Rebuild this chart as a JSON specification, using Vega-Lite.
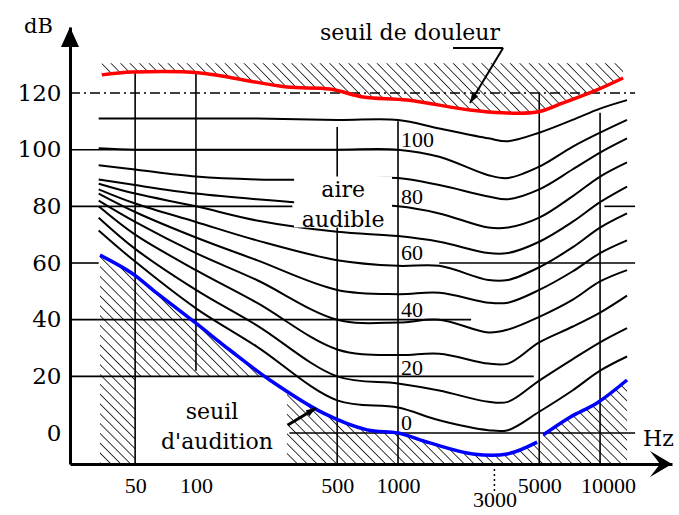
{
"$schema": "https://vega.github.io/schema/vega-lite/v6.json",
"width": 602, "height": 437,
"autosize": "none",
"padding": {"left": 70, "top": 27, "right": 7, "bottom": 51},
"background": "white",
"config": {"view": {"stroke": null}},
"datasets": {
"pain": [{"f":34.2,"db":126.4},{"f":48.8,"db":127.4},{"f":105,"db":127.1},{"f":152,"db":125.3},{"f":282,"db":122.1},{"f":460,"db":121.4},{"f":671,"db":118.6},{"f":1110,"db":117.5},{"f":2270,"db":114},{"f":3300,"db":113},{"f":4880,"db":113.3},{"f":6560,"db":116.5},{"f":9660,"db":121.1},{"f":13000,"db":125.3}],
"threshold": [{"f":33.5,"db":62.8,"seg":"a"},{"f":48,"db":56.5,"seg":"a"},{"f":64,"db":49.4,"seg":"a"},{"f":101,"db":38.5,"seg":"a"},{"f":147,"db":29.3,"seg":"a"},{"f":232,"db":18.7,"seg":"a"},{"f":425,"db":7.1,"seg":"a"},{"f":703,"db":1.1,"seg":"a"},{"f":1000,"db":0,"seg":"a"},{"f":1440,"db":-3.5,"seg":"a"},{"f":2350,"db":-7.4,"seg":"a"},{"f":3470,"db":-7.4,"seg":"a"},{"f":4880,"db":-3.2,"seg":"a"},{"f":5220,"db":-0.7,"seg":"b"},{"f":7100,"db":5.6,"seg":"b"},{"f":9660,"db":10.6,"seg":"b"},{"f":13600,"db":18.7,"seg":"b"}],
"curves": [
{"level":110,"f":33,"db":111},{"level":110,"f":50,"db":111},{"level":110,"f":100,"db":111},{"level":110,"f":200,"db":111},{"level":110,"f":500,"db":110.5},{"level":110,"f":1000,"db":110.5},{"level":110,"f":1600,"db":107.5},{"level":110,"f":2800,"db":104},{"level":110,"f":3500,"db":103},{"level":110,"f":5000,"db":106},{"level":110,"f":7300,"db":110.5},{"level":110,"f":10000,"db":114.5},{"level":110,"f":13600,"db":117.5},
{"level":100,"f":33,"db":100.5},{"level":100,"f":50,"db":100},{"level":100,"f":100,"db":100},{"level":100,"f":200,"db":100},{"level":100,"f":500,"db":100},{"level":100,"f":1000,"db":100},{"level":100,"f":1600,"db":97.5},{"level":100,"f":2800,"db":91},{"level":100,"f":3500,"db":90},{"level":100,"f":5000,"db":94},{"level":100,"f":7300,"db":101},{"level":100,"f":10000,"db":106},{"level":100,"f":13600,"db":110.5},
{"level":90,"f":33,"db":94.5},{"level":90,"f":50,"db":93},{"level":90,"f":100,"db":90.5},{"level":90,"f":200,"db":89.5},{"level":90,"f":500,"db":89.5},{"level":90,"f":1000,"db":90},{"level":90,"f":1600,"db":87.5},{"level":90,"f":2800,"db":83.5},{"level":90,"f":3500,"db":82.5},{"level":90,"f":5000,"db":86},{"level":90,"f":7300,"db":93},{"level":90,"f":10000,"db":99},{"level":90,"f":13600,"db":104},
{"level":80,"f":33,"db":89.5},{"level":80,"f":50,"db":87.5},{"level":80,"f":100,"db":84.5},{"level":80,"f":200,"db":82.5},{"level":80,"f":500,"db":80.5},{"level":80,"f":1000,"db":80},{"level":80,"f":1600,"db":77.5},{"level":80,"f":2800,"db":72.5},{"level":80,"f":3500,"db":72.5},{"level":80,"f":5000,"db":76},{"level":80,"f":7300,"db":83.5},{"level":80,"f":10000,"db":90.5},{"level":80,"f":13600,"db":95.5},
{"level":70,"f":33,"db":88},{"level":70,"f":50,"db":84.5},{"level":70,"f":100,"db":80},{"level":70,"f":200,"db":75},{"level":70,"f":500,"db":71},{"level":70,"f":1000,"db":69.5},{"level":70,"f":1600,"db":67.5},{"level":70,"f":2800,"db":63.5},{"level":70,"f":3500,"db":63.5},{"level":70,"f":5000,"db":67.5},{"level":70,"f":7300,"db":74.5},{"level":70,"f":10000,"db":81.5},{"level":70,"f":13600,"db":87},
{"level":60,"f":33,"db":86},{"level":60,"f":50,"db":81},{"level":60,"f":100,"db":74.5},{"level":60,"f":200,"db":68},{"level":60,"f":500,"db":61},{"level":60,"f":1000,"db":59},{"level":60,"f":1600,"db":59},{"level":60,"f":2800,"db":54},{"level":60,"f":3500,"db":54},{"level":60,"f":5000,"db":58.5},{"level":60,"f":7300,"db":65.5},{"level":60,"f":10000,"db":72.5},{"level":60,"f":13600,"db":77.5},
{"level":50,"f":33,"db":84.5},{"level":50,"f":50,"db":78},{"level":50,"f":100,"db":69},{"level":50,"f":200,"db":61},{"level":50,"f":500,"db":50.5},{"level":50,"f":1000,"db":49},{"level":50,"f":1600,"db":49.5},{"level":50,"f":2800,"db":46},{"level":50,"f":3500,"db":46},{"level":50,"f":5000,"db":50.5},{"level":50,"f":7300,"db":57},{"level":50,"f":10000,"db":63.5},{"level":50,"f":13600,"db":68},
{"level":40,"f":33,"db":82},{"level":40,"f":50,"db":74.5},{"level":40,"f":100,"db":63.5},{"level":40,"f":200,"db":54},{"level":40,"f":500,"db":40},{"level":40,"f":1000,"db":39},{"level":40,"f":1600,"db":40},{"level":40,"f":2800,"db":35.5},{"level":40,"f":3500,"db":36.5},{"level":40,"f":5000,"db":41},{"level":40,"f":7300,"db":47},{"level":40,"f":10000,"db":53.5},{"level":40,"f":13600,"db":57.5},
{"level":30,"f":33,"db":80},{"level":30,"f":50,"db":70},{"level":30,"f":100,"db":57.5},{"level":30,"f":200,"db":46},{"level":30,"f":500,"db":29.5},{"level":30,"f":1000,"db":27.5},{"level":30,"f":1600,"db":28},{"level":30,"f":2800,"db":24.5},{"level":30,"f":3500,"db":24.5},{"level":30,"f":5000,"db":32},{"level":30,"f":7300,"db":37.5},{"level":30,"f":10000,"db":42.5},{"level":30,"f":13600,"db":48.5},
{"level":20,"f":33,"db":76},{"level":20,"f":50,"db":65},{"level":20,"f":100,"db":50.5},{"level":20,"f":200,"db":38},{"level":20,"f":500,"db":20},{"level":20,"f":1000,"db":17.5},{"level":20,"f":1600,"db":15},{"level":20,"f":2800,"db":11},{"level":20,"f":3500,"db":11},{"level":20,"f":5000,"db":18.5},{"level":20,"f":7300,"db":26},{"level":20,"f":10000,"db":32},{"level":20,"f":13600,"db":37},
{"level":10,"f":33,"db":71.5},{"level":10,"f":50,"db":60.5},{"level":10,"f":100,"db":44},{"level":10,"f":200,"db":30.5},{"level":10,"f":500,"db":11.5},{"level":10,"f":1000,"db":9},{"level":10,"f":1600,"db":4.5},{"level":10,"f":2800,"db":1},{"level":10,"f":3500,"db":1},{"level":10,"f":5000,"db":7.5},{"level":10,"f":7300,"db":15},{"level":10,"f":10000,"db":22},{"level":10,"f":13600,"db":27}
]
},
"layer": [
{"data": {"name": "pain"},
 "mark": {"type": "area", "interpolate": "catmull-rom", "fill": {"gradient": "linear", "x1": 0, "y1": 1, "x2": 1.0845, "y2": 0.898, "stops": [
{"offset":0,"color":"#fff"},{"offset":0.0021,"color":"#222"},{"offset":0.0042,"color":"#fff"},
{"offset":0.0167,"color":"#fff"},{"offset":0.0188,"color":"#222"},{"offset":0.0209,"color":"#fff"},
{"offset":0.0333,"color":"#fff"},{"offset":0.0354,"color":"#222"},{"offset":0.0375,"color":"#fff"},
{"offset":0.05,"color":"#fff"},{"offset":0.0521,"color":"#222"},{"offset":0.0542,"color":"#fff"},
{"offset":0.0667,"color":"#fff"},{"offset":0.0688,"color":"#222"},{"offset":0.0709,"color":"#fff"},
{"offset":0.0833,"color":"#fff"},{"offset":0.0854,"color":"#222"},{"offset":0.0875,"color":"#fff"},
{"offset":0.1,"color":"#fff"},{"offset":0.1021,"color":"#222"},{"offset":0.1042,"color":"#fff"},
{"offset":0.1167,"color":"#fff"},{"offset":0.1188,"color":"#222"},{"offset":0.1209,"color":"#fff"},
{"offset":0.1333,"color":"#fff"},{"offset":0.1354,"color":"#222"},{"offset":0.1375,"color":"#fff"},
{"offset":0.15,"color":"#fff"},{"offset":0.1521,"color":"#222"},{"offset":0.1542,"color":"#fff"},
{"offset":0.1667,"color":"#fff"},{"offset":0.1688,"color":"#222"},{"offset":0.1709,"color":"#fff"},
{"offset":0.1833,"color":"#fff"},{"offset":0.1854,"color":"#222"},{"offset":0.1875,"color":"#fff"},
{"offset":0.2,"color":"#fff"},{"offset":0.2021,"color":"#222"},{"offset":0.2042,"color":"#fff"},
{"offset":0.2167,"color":"#fff"},{"offset":0.2188,"color":"#222"},{"offset":0.2209,"color":"#fff"},
{"offset":0.2333,"color":"#fff"},{"offset":0.2354,"color":"#222"},{"offset":0.2375,"color":"#fff"},
{"offset":0.25,"color":"#fff"},{"offset":0.2521,"color":"#222"},{"offset":0.2542,"color":"#fff"},
{"offset":0.2667,"color":"#fff"},{"offset":0.2688,"color":"#222"},{"offset":0.2709,"color":"#fff"},
{"offset":0.2833,"color":"#fff"},{"offset":0.2854,"color":"#222"},{"offset":0.2875,"color":"#fff"},
{"offset":0.3,"color":"#fff"},{"offset":0.3021,"color":"#222"},{"offset":0.3042,"color":"#fff"},
{"offset":0.3167,"color":"#fff"},{"offset":0.3188,"color":"#222"},{"offset":0.3209,"color":"#fff"},
{"offset":0.3333,"color":"#fff"},{"offset":0.3354,"color":"#222"},{"offset":0.3375,"color":"#fff"},
{"offset":0.35,"color":"#fff"},{"offset":0.3521,"color":"#222"},{"offset":0.3542,"color":"#fff"},
{"offset":0.3667,"color":"#fff"},{"offset":0.3688,"color":"#222"},{"offset":0.3709,"color":"#fff"},
{"offset":0.3833,"color":"#fff"},{"offset":0.3854,"color":"#222"},{"offset":0.3875,"color":"#fff"},
{"offset":0.4,"color":"#fff"},{"offset":0.4021,"color":"#222"},{"offset":0.4042,"color":"#fff"},
{"offset":0.4167,"color":"#fff"},{"offset":0.4188,"color":"#222"},{"offset":0.4209,"color":"#fff"},
{"offset":0.4333,"color":"#fff"},{"offset":0.4354,"color":"#222"},{"offset":0.4375,"color":"#fff"},
{"offset":0.45,"color":"#fff"},{"offset":0.4521,"color":"#222"},{"offset":0.4542,"color":"#fff"},
{"offset":0.4667,"color":"#fff"},{"offset":0.4688,"color":"#222"},{"offset":0.4709,"color":"#fff"},
{"offset":0.4833,"color":"#fff"},{"offset":0.4854,"color":"#222"},{"offset":0.4875,"color":"#fff"},
{"offset":0.5,"color":"#fff"},{"offset":0.5021,"color":"#222"},{"offset":0.5042,"color":"#fff"},
{"offset":0.5167,"color":"#fff"},{"offset":0.5188,"color":"#222"},{"offset":0.5209,"color":"#fff"},
{"offset":0.5333,"color":"#fff"},{"offset":0.5354,"color":"#222"},{"offset":0.5375,"color":"#fff"},
{"offset":0.55,"color":"#fff"},{"offset":0.5521,"color":"#222"},{"offset":0.5542,"color":"#fff"},
{"offset":0.5667,"color":"#fff"},{"offset":0.5688,"color":"#222"},{"offset":0.5709,"color":"#fff"},
{"offset":0.5833,"color":"#fff"},{"offset":0.5854,"color":"#222"},{"offset":0.5875,"color":"#fff"},
{"offset":0.6,"color":"#fff"},{"offset":0.6021,"color":"#222"},{"offset":0.6042,"color":"#fff"},
{"offset":0.6167,"color":"#fff"},{"offset":0.6188,"color":"#222"},{"offset":0.6209,"color":"#fff"},
{"offset":0.6333,"color":"#fff"},{"offset":0.6354,"color":"#222"},{"offset":0.6375,"color":"#fff"},
{"offset":0.65,"color":"#fff"},{"offset":0.6521,"color":"#222"},{"offset":0.6542,"color":"#fff"},
{"offset":0.6667,"color":"#fff"},{"offset":0.6688,"color":"#222"},{"offset":0.6709,"color":"#fff"},
{"offset":0.6833,"color":"#fff"},{"offset":0.6854,"color":"#222"},{"offset":0.6875,"color":"#fff"},
{"offset":0.7,"color":"#fff"},{"offset":0.7021,"color":"#222"},{"offset":0.7042,"color":"#fff"},
{"offset":0.7167,"color":"#fff"},{"offset":0.7188,"color":"#222"},{"offset":0.7209,"color":"#fff"},
{"offset":0.7333,"color":"#fff"},{"offset":0.7354,"color":"#222"},{"offset":0.7375,"color":"#fff"},
{"offset":0.75,"color":"#fff"},{"offset":0.7521,"color":"#222"},{"offset":0.7542,"color":"#fff"},
{"offset":0.7667,"color":"#fff"},{"offset":0.7688,"color":"#222"},{"offset":0.7709,"color":"#fff"},
{"offset":0.7833,"color":"#fff"},{"offset":0.7854,"color":"#222"},{"offset":0.7875,"color":"#fff"},
{"offset":0.8,"color":"#fff"},{"offset":0.8021,"color":"#222"},{"offset":0.8042,"color":"#fff"},
{"offset":0.8167,"color":"#fff"},{"offset":0.8188,"color":"#222"},{"offset":0.8209,"color":"#fff"},
{"offset":0.8333,"color":"#fff"},{"offset":0.8354,"color":"#222"},{"offset":0.8375,"color":"#fff"},
{"offset":0.85,"color":"#fff"},{"offset":0.8521,"color":"#222"},{"offset":0.8542,"color":"#fff"},
{"offset":0.8667,"color":"#fff"},{"offset":0.8688,"color":"#222"},{"offset":0.8709,"color":"#fff"},
{"offset":0.8833,"color":"#fff"},{"offset":0.8854,"color":"#222"},{"offset":0.8875,"color":"#fff"},
{"offset":0.9,"color":"#fff"},{"offset":0.9021,"color":"#222"},{"offset":0.9042,"color":"#fff"},
{"offset":0.9167,"color":"#fff"},{"offset":0.9188,"color":"#222"},{"offset":0.9209,"color":"#fff"},
{"offset":0.9333,"color":"#fff"},{"offset":0.9354,"color":"#222"},{"offset":0.9375,"color":"#fff"},
{"offset":0.95,"color":"#fff"},{"offset":0.9521,"color":"#222"},{"offset":0.9542,"color":"#fff"},
{"offset":0.9667,"color":"#fff"},{"offset":0.9688,"color":"#222"},{"offset":0.9709,"color":"#fff"},
{"offset":0.9833,"color":"#fff"},{"offset":0.9854,"color":"#222"},{"offset":0.9875,"color":"#fff"},
{"offset":1,"color":"#fff"}]}},
 "encoding": {
  "x": {"field": "f", "type": "quantitative", "scale": {"type": "log", "domain": [23.8, 22700], "nice": false},
        "axis": {"title": "Hz", "titleX": 588, "titleY": -26, "titleAngle": 0, "titleAlign": "center", "titleBaseline": "middle", "titleFont": "DejaVu Serif", "titleFontSize": 22, "titleFontWeight": "normal", "titleColor": "black",
                 "values": [50, 100, 500, 1000, 3000, 5000, 10000], "format": "d", "ticks": false, "grid": false,
                 "domainColor": "black", "domainWidth": 3, "labelFont": "Liberation Serif", "labelFontSize": 22, "labelColor": "black",
                 "labelPadding": {"condition": {"test": "datum.value == 3000", "value": 25}, "value": 11},
                 "labelOffset": {"condition": {"test": "datum.value == 10000", "value": 8}, "value": 0},
                 "labelFlush": false, "labelOverlap": false, "zindex": 1}},
  "y": {"field": "db", "type": "quantitative", "scale": {"domain": [-10.94, 143.3], "nice": false, "zero": false},
        "axis": {"title": "dB", "titleX": -32, "titleY": -1, "titleAngle": 0, "titleAlign": "center", "titleBaseline": "middle", "titleFont": "DejaVu Serif", "titleFontSize": 21, "titleFontWeight": "normal", "titleColor": "black",
                 "values": [0, 20, 40, 60, 80, 100, 120], "ticks": false, "grid": false,
                 "domainColor": "black", "domainWidth": 3, "labelFont": "DejaVu Serif", "labelFontSize": 23, "labelColor": "black", "labelPadding": 9, "labelOverlap": false, "zindex": 1}},
  "y2": {"datum": 130.5}
 }},
{"data": {"name": "threshold"},
 "mark": {"type": "area", "interpolate": "catmull-rom", "fill": {"gradient": "linear", "x1": 0, "y1": 1, "x2": 1.2068, "y2": 0.5214, "stops": [
{"offset":0,"color":"#fff"},{"offset":0.0017,"color":"#222"},{"offset":0.0034,"color":"#fff"},
{"offset":0.0133,"color":"#fff"},{"offset":0.015,"color":"#222"},{"offset":0.0167,"color":"#fff"},
{"offset":0.0267,"color":"#fff"},{"offset":0.0284,"color":"#222"},{"offset":0.0301,"color":"#fff"},
{"offset":0.04,"color":"#fff"},{"offset":0.0417,"color":"#222"},{"offset":0.0434,"color":"#fff"},
{"offset":0.0533,"color":"#fff"},{"offset":0.055,"color":"#222"},{"offset":0.0567,"color":"#fff"},
{"offset":0.0667,"color":"#fff"},{"offset":0.0684,"color":"#222"},{"offset":0.0701,"color":"#fff"},
{"offset":0.08,"color":"#fff"},{"offset":0.0817,"color":"#222"},{"offset":0.0834,"color":"#fff"},
{"offset":0.0933,"color":"#fff"},{"offset":0.095,"color":"#222"},{"offset":0.0967,"color":"#fff"},
{"offset":0.1067,"color":"#fff"},{"offset":0.1084,"color":"#222"},{"offset":0.1101,"color":"#fff"},
{"offset":0.12,"color":"#fff"},{"offset":0.1217,"color":"#222"},{"offset":0.1234,"color":"#fff"},
{"offset":0.1333,"color":"#fff"},{"offset":0.135,"color":"#222"},{"offset":0.1367,"color":"#fff"},
{"offset":0.1467,"color":"#fff"},{"offset":0.1484,"color":"#222"},{"offset":0.1501,"color":"#fff"},
{"offset":0.16,"color":"#fff"},{"offset":0.1617,"color":"#222"},{"offset":0.1634,"color":"#fff"},
{"offset":0.1733,"color":"#fff"},{"offset":0.175,"color":"#222"},{"offset":0.1767,"color":"#fff"},
{"offset":0.1867,"color":"#fff"},{"offset":0.1884,"color":"#222"},{"offset":0.1901,"color":"#fff"},
{"offset":0.2,"color":"#fff"},{"offset":0.2017,"color":"#222"},{"offset":0.2034,"color":"#fff"},
{"offset":0.2133,"color":"#fff"},{"offset":0.215,"color":"#222"},{"offset":0.2167,"color":"#fff"},
{"offset":0.2267,"color":"#fff"},{"offset":0.2284,"color":"#222"},{"offset":0.2301,"color":"#fff"},
{"offset":0.24,"color":"#fff"},{"offset":0.2417,"color":"#222"},{"offset":0.2434,"color":"#fff"},
{"offset":0.2533,"color":"#fff"},{"offset":0.255,"color":"#222"},{"offset":0.2567,"color":"#fff"},
{"offset":0.2667,"color":"#fff"},{"offset":0.2684,"color":"#222"},{"offset":0.2701,"color":"#fff"},
{"offset":0.28,"color":"#fff"},{"offset":0.2817,"color":"#222"},{"offset":0.2834,"color":"#fff"},
{"offset":0.2933,"color":"#fff"},{"offset":0.295,"color":"#222"},{"offset":0.2967,"color":"#fff"},
{"offset":0.3067,"color":"#fff"},{"offset":0.3084,"color":"#222"},{"offset":0.3101,"color":"#fff"},
{"offset":0.32,"color":"#fff"},{"offset":0.3217,"color":"#222"},{"offset":0.3234,"color":"#fff"},
{"offset":0.3333,"color":"#fff"},{"offset":0.335,"color":"#222"},{"offset":0.3367,"color":"#fff"},
{"offset":0.3467,"color":"#fff"},{"offset":0.3484,"color":"#222"},{"offset":0.3501,"color":"#fff"},
{"offset":0.36,"color":"#fff"},{"offset":0.3617,"color":"#222"},{"offset":0.3634,"color":"#fff"},
{"offset":0.3733,"color":"#fff"},{"offset":0.375,"color":"#222"},{"offset":0.3767,"color":"#fff"},
{"offset":0.3867,"color":"#fff"},{"offset":0.3884,"color":"#222"},{"offset":0.3901,"color":"#fff"},
{"offset":0.4,"color":"#fff"},{"offset":0.4017,"color":"#222"},{"offset":0.4034,"color":"#fff"},
{"offset":0.4133,"color":"#fff"},{"offset":0.415,"color":"#222"},{"offset":0.4167,"color":"#fff"},
{"offset":0.4267,"color":"#fff"},{"offset":0.4284,"color":"#222"},{"offset":0.4301,"color":"#fff"},
{"offset":0.44,"color":"#fff"},{"offset":0.4417,"color":"#222"},{"offset":0.4434,"color":"#fff"},
{"offset":0.4533,"color":"#fff"},{"offset":0.455,"color":"#222"},{"offset":0.4567,"color":"#fff"},
{"offset":0.4667,"color":"#fff"},{"offset":0.4684,"color":"#222"},{"offset":0.4701,"color":"#fff"},
{"offset":0.48,"color":"#fff"},{"offset":0.4817,"color":"#222"},{"offset":0.4834,"color":"#fff"},
{"offset":0.4933,"color":"#fff"},{"offset":0.495,"color":"#222"},{"offset":0.4967,"color":"#fff"},
{"offset":0.5067,"color":"#fff"},{"offset":0.5084,"color":"#222"},{"offset":0.5101,"color":"#fff"},
{"offset":0.52,"color":"#fff"},{"offset":0.5217,"color":"#222"},{"offset":0.5234,"color":"#fff"},
{"offset":0.5333,"color":"#fff"},{"offset":0.535,"color":"#222"},{"offset":0.5367,"color":"#fff"},
{"offset":0.5467,"color":"#fff"},{"offset":0.5484,"color":"#222"},{"offset":0.5501,"color":"#fff"},
{"offset":0.56,"color":"#fff"},{"offset":0.5617,"color":"#222"},{"offset":0.5634,"color":"#fff"},
{"offset":0.5733,"color":"#fff"},{"offset":0.575,"color":"#222"},{"offset":0.5767,"color":"#fff"},
{"offset":0.5867,"color":"#fff"},{"offset":0.5884,"color":"#222"},{"offset":0.5901,"color":"#fff"},
{"offset":0.6,"color":"#fff"},{"offset":0.6017,"color":"#222"},{"offset":0.6034,"color":"#fff"},
{"offset":0.6133,"color":"#fff"},{"offset":0.615,"color":"#222"},{"offset":0.6167,"color":"#fff"},
{"offset":0.6267,"color":"#fff"},{"offset":0.6284,"color":"#222"},{"offset":0.6301,"color":"#fff"},
{"offset":0.64,"color":"#fff"},{"offset":0.6417,"color":"#222"},{"offset":0.6434,"color":"#fff"},
{"offset":0.6533,"color":"#fff"},{"offset":0.655,"color":"#222"},{"offset":0.6567,"color":"#fff"},
{"offset":0.6667,"color":"#fff"},{"offset":0.6684,"color":"#222"},{"offset":0.6701,"color":"#fff"},
{"offset":0.68,"color":"#fff"},{"offset":0.6817,"color":"#222"},{"offset":0.6834,"color":"#fff"},
{"offset":0.6933,"color":"#fff"},{"offset":0.695,"color":"#222"},{"offset":0.6967,"color":"#fff"},
{"offset":0.7067,"color":"#fff"},{"offset":0.7084,"color":"#222"},{"offset":0.7101,"color":"#fff"},
{"offset":0.72,"color":"#fff"},{"offset":0.7217,"color":"#222"},{"offset":0.7234,"color":"#fff"},
{"offset":0.7333,"color":"#fff"},{"offset":0.735,"color":"#222"},{"offset":0.7367,"color":"#fff"},
{"offset":0.7467,"color":"#fff"},{"offset":0.7484,"color":"#222"},{"offset":0.7501,"color":"#fff"},
{"offset":0.76,"color":"#fff"},{"offset":0.7617,"color":"#222"},{"offset":0.7634,"color":"#fff"},
{"offset":0.7733,"color":"#fff"},{"offset":0.775,"color":"#222"},{"offset":0.7767,"color":"#fff"},
{"offset":0.7867,"color":"#fff"},{"offset":0.7884,"color":"#222"},{"offset":0.7901,"color":"#fff"},
{"offset":0.8,"color":"#fff"},{"offset":0.8017,"color":"#222"},{"offset":0.8034,"color":"#fff"},
{"offset":0.8133,"color":"#fff"},{"offset":0.815,"color":"#222"},{"offset":0.8167,"color":"#fff"},
{"offset":0.8267,"color":"#fff"},{"offset":0.8284,"color":"#222"},{"offset":0.8301,"color":"#fff"},
{"offset":0.84,"color":"#fff"},{"offset":0.8417,"color":"#222"},{"offset":0.8434,"color":"#fff"},
{"offset":0.8533,"color":"#fff"},{"offset":0.855,"color":"#222"},{"offset":0.8567,"color":"#fff"},
{"offset":0.8667,"color":"#fff"},{"offset":0.8684,"color":"#222"},{"offset":0.8701,"color":"#fff"},
{"offset":0.88,"color":"#fff"},{"offset":0.8817,"color":"#222"},{"offset":0.8834,"color":"#fff"},
{"offset":0.8933,"color":"#fff"},{"offset":0.895,"color":"#222"},{"offset":0.8967,"color":"#fff"},
{"offset":0.9067,"color":"#fff"},{"offset":0.9084,"color":"#222"},{"offset":0.9101,"color":"#fff"},
{"offset":0.92,"color":"#fff"},{"offset":0.9217,"color":"#222"},{"offset":0.9234,"color":"#fff"},
{"offset":0.9333,"color":"#fff"},{"offset":0.935,"color":"#222"},{"offset":0.9367,"color":"#fff"},
{"offset":0.9467,"color":"#fff"},{"offset":0.9484,"color":"#222"},{"offset":0.9501,"color":"#fff"},
{"offset":0.96,"color":"#fff"},{"offset":0.9617,"color":"#222"},{"offset":0.9634,"color":"#fff"},
{"offset":0.9733,"color":"#fff"},{"offset":0.975,"color":"#222"},{"offset":0.9767,"color":"#fff"},
{"offset":0.9867,"color":"#fff"},{"offset":0.9884,"color":"#222"},{"offset":0.9901,"color":"#fff"},
{"offset":1,"color":"#fff"}]}},
 "encoding": {"x": {"field": "f", "type": "quantitative"}, "y": {"field": "db", "type": "quantitative"}, "y2": {"datum": -10.94}}},
{"data": {"values": [{}]},
 "mark": {"type": "rect", "fill": "white"},
 "encoding": {"x": {"datum": 50}, "x2": {"datum": 282}, "y": {"datum": -10.94}, "y2": {"datum": 20}}},
{"data": {"values": [{"db":100,"f1":23.8,"f2":1000},{"db":80,"f1":23.8,"f2":300},{"db":80,"f1":10500,"f2":14900},{"db":60,"f1":23.8,"f2":33},{"db":60,"f1":1600,"f2":14900},{"db":40,"f1":23.8,"f2":2300},{"db":20,"f1":23.8,"f2":4700},{"db":0,"f1":290,"f2":14900}]},
 "mark": {"type": "rule", "color": "black", "strokeWidth": 1.6},
 "encoding": {"x": {"field": "f1", "type": "quantitative"}, "x2": {"field": "f2"}, "y": {"field": "db", "type": "quantitative"}}},
{"data": {"values": [{}]},
 "mark": {"type": "rule", "color": "black", "strokeWidth": 1.6, "strokeDash": [10, 4, 2, 4]},
 "encoding": {"x": {"datum": 23.8}, "x2": {"datum": 14900}, "y": {"datum": 120}}},
{"data": {"values": [{"f":50,"d1":-10.94,"d2":127},{"f":100,"d1":22,"d2":127},{"f":500,"d1":-10.94,"d2":108},{"f":1000,"d1":-10.94,"d2":110},{"f":5000,"d1":-10.94,"d2":120},{"f":10000,"d1":-10.94,"d2":113}]},
 "mark": {"type": "rule", "color": "black", "strokeWidth": 1.6},
 "encoding": {"x": {"field": "f", "type": "quantitative"}, "y": {"field": "d1", "type": "quantitative"}, "y2": {"field": "d2"}}},
{"data": {"values": [{}]},
 "mark": {"type": "rule", "color": "black", "strokeWidth": 1.5, "strokeDash": [2, 3]},
 "encoding": {"x": {"datum": 3000}, "y": {"datum": -10.94}, "y2": {"datum": -20.5}}},
{"data": {"name": "curves"},
 "mark": {"type": "line", "interpolate": "catmull-rom", "color": "black", "strokeWidth": 2},
 "encoding": {"x": {"field": "f", "type": "quantitative"}, "y": {"field": "db", "type": "quantitative"}, "detail": {"field": "level", "type": "nominal"}}},
{"data": {"values": [{}]},
 "mark": {"type": "rect", "fill": "white"},
 "encoding": {"x": {"datum": 306}, "x2": {"datum": 934}, "y": {"datum": 72.5}, "y2": {"datum": 90.5}}},
{"data": {"name": "threshold"},
 "mark": {"type": "line", "interpolate": "catmull-rom", "color": "#0000ff", "strokeWidth": 3.5},
 "encoding": {"x": {"field": "f", "type": "quantitative"}, "y": {"field": "db", "type": "quantitative"}, "detail": {"field": "seg", "type": "nominal"}}},
{"data": {"name": "pain"},
 "mark": {"type": "line", "interpolate": "catmull-rom", "color": "#ff0000", "strokeWidth": 3.5},
 "encoding": {"x": {"field": "f", "type": "quantitative"}, "y": {"field": "db", "type": "quantitative"}}},
{"data": {"values": [{"lab":"100","db":103.4},{"lab":"80","db":83.3},{"lab":"60","db":63.5},{"lab":"40","db":43.4},{"lab":"20","db":22.9},{"lab":"0","db":3.5}]},
 "mark": {"type": "text", "font": "Liberation Serif", "fontSize": 22, "align": "left", "baseline": "middle", "color": "black"},
 "encoding": {"x": {"datum": 1035}, "y": {"field": "db", "type": "quantitative"}, "text": {"field": "lab"}}},
{"data": {"values": [{}]},
 "mark": {"type": "text", "text": "seuil de douleur", "font": "DejaVu Serif", "fontSize": 22, "align": "center", "baseline": "middle", "color": "black"},
 "encoding": {"x": {"datum": 1146}, "y": {"datum": 141.2}}},
{"data": {"values": [{}]},
 "mark": {"type": "text", "text": "aire", "font": "DejaVu Serif", "fontSize": 22, "align": "center", "baseline": "middle", "color": "black"},
 "encoding": {"x": {"datum": 535}, "y": {"datum": 85.8}}},
{"data": {"values": [{}]},
 "mark": {"type": "text", "text": "audible", "font": "DejaVu Serif", "fontSize": 22, "align": "center", "baseline": "middle", "color": "black"},
 "encoding": {"x": {"datum": 535}, "y": {"datum": 75.2}}},
{"data": {"values": [{}]},
 "mark": {"type": "text", "text": "seuil", "font": "DejaVu Serif", "fontSize": 22, "align": "center", "baseline": "middle", "color": "black"},
 "encoding": {"x": {"datum": 120}, "y": {"datum": 7.4}}},
{"data": {"values": [{}]},
 "mark": {"type": "text", "text": "d'audition", "font": "DejaVu Serif", "fontSize": 22, "align": "center", "baseline": "middle", "color": "black"},
 "encoding": {"x": {"datum": 127}, "y": {"datum": -3.2}}},
{"data": {"values": [{}]},
 "mark": {"type": "rule", "color": "black", "strokeWidth": 2},
 "encoding": {"x": {"datum": 1872}, "x2": {"datum": 3311}, "y": {"datum": 135.9}}},
{"data": {"values": [{}]},
 "mark": {"type": "rule", "color": "black", "strokeWidth": 2},
 "encoding": {"x": {"datum": 3311}, "x2": {"datum": 2272}, "y": {"datum": 135.9}, "y2": {"datum": 116.5}}},
{"data": {"values": [{}]},
 "mark": {"type": "point", "shape": "M0,0L0.7,2L-0.7,2Z", "size": 100, "filled": true, "color": "black", "opacity": 1, "angle": 211},
 "encoding": {"x": {"datum": 2272}, "y": {"datum": 116.5}}},
{"data": {"values": [{}]},
 "mark": {"type": "rule", "color": "black", "strokeWidth": 3},
 "encoding": {"x": {"datum": 285}, "x2": {"datum": 393}, "y": {"datum": 2.8}, "y2": {"datum": 8.8}}},
{"data": {"values": [{}]},
 "mark": {"type": "point", "shape": "M0,0L0.7,2L-0.7,2Z", "size": 100, "filled": true, "color": "black", "opacity": 1, "angle": 59},
 "encoding": {"x": {"datum": 393}, "y": {"datum": 8.8}}},
{"data": {"values": [{}]},
 "mark": {"type": "point", "shape": "M0,0L0.9,2L-0.9,2Z", "size": 400, "filled": true, "color": "black", "opacity": 1},
 "encoding": {"x": {"datum": 23.8}, "y": {"datum": 143.3}}},
{"data": {"values": [{}]},
 "mark": {"type": "point", "shape": "M0,0L1.3,2.2L0,1.2L-1.3,2.2Z", "size": 400, "filled": true, "color": "black", "opacity": 1, "angle": 90},
 "encoding": {"x": {"datum": 22700}, "y": {"datum": -10.94}}}
]
}
